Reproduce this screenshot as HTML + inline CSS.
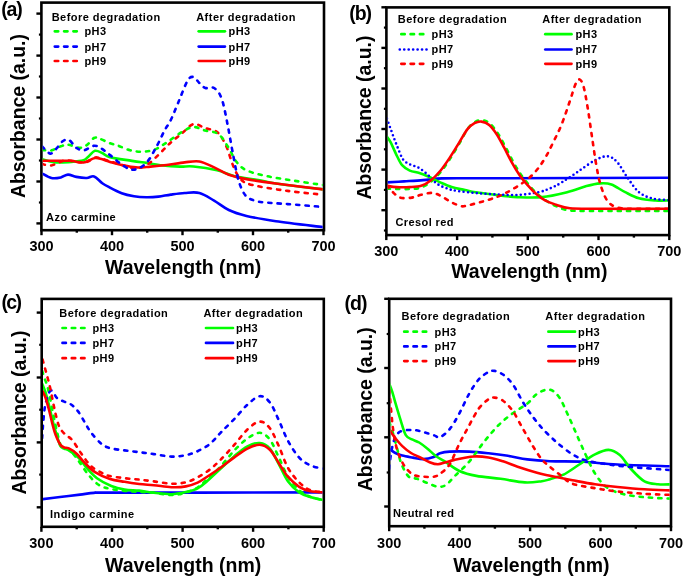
<!DOCTYPE html>
<html><head><meta charset="utf-8"><style>html,body{margin:0;padding:0;background:#fff;width:685px;height:578px;overflow:hidden}</style></head>
<body>
<svg width="685" height="578" viewBox="0 0 685 578" style="display:block;will-change:transform">
<rect width="685" height="578" fill="#fff"/>
<line x1="36.4" y1="13.6" x2="41.4" y2="13.6" stroke="#000" stroke-width="2.4"/>
<line x1="36.4" y1="55.6" x2="41.4" y2="55.6" stroke="#000" stroke-width="2.4"/>
<line x1="36.4" y1="97.5" x2="41.4" y2="97.5" stroke="#000" stroke-width="2.4"/>
<line x1="36.4" y1="139.5" x2="41.4" y2="139.5" stroke="#000" stroke-width="2.4"/>
<line x1="36.4" y1="181.5" x2="41.4" y2="181.5" stroke="#000" stroke-width="2.4"/>
<line x1="36.4" y1="223.4" x2="41.4" y2="223.4" stroke="#000" stroke-width="2.4"/>
<line x1="38.9" y1="34.6" x2="41.4" y2="34.6" stroke="#000" stroke-width="2.2"/>
<line x1="38.9" y1="76.5" x2="41.4" y2="76.5" stroke="#000" stroke-width="2.2"/>
<line x1="38.9" y1="118.5" x2="41.4" y2="118.5" stroke="#000" stroke-width="2.2"/>
<line x1="38.9" y1="160.5" x2="41.4" y2="160.5" stroke="#000" stroke-width="2.2"/>
<line x1="38.9" y1="202.5" x2="41.4" y2="202.5" stroke="#000" stroke-width="2.2"/>
<line x1="41.5" y1="230.2" x2="41.5" y2="235.2" stroke="#000" stroke-width="2.4"/>
<text x="41.5" y="251.1" font-size="14.5" font-weight="bold" text-anchor="middle" font-family='"Liberation Sans", sans-serif'>300</text>
<line x1="76.8" y1="230.2" x2="76.8" y2="232.7" stroke="#000" stroke-width="2.4"/>
<line x1="112.0" y1="230.2" x2="112.0" y2="235.2" stroke="#000" stroke-width="2.4"/>
<text x="112.0" y="251.1" font-size="14.5" font-weight="bold" text-anchor="middle" font-family='"Liberation Sans", sans-serif'>400</text>
<line x1="147.2" y1="230.2" x2="147.2" y2="232.7" stroke="#000" stroke-width="2.4"/>
<line x1="182.5" y1="230.2" x2="182.5" y2="235.2" stroke="#000" stroke-width="2.4"/>
<text x="182.5" y="251.1" font-size="14.5" font-weight="bold" text-anchor="middle" font-family='"Liberation Sans", sans-serif'>500</text>
<line x1="217.8" y1="230.2" x2="217.8" y2="232.7" stroke="#000" stroke-width="2.4"/>
<line x1="253.0" y1="230.2" x2="253.0" y2="235.2" stroke="#000" stroke-width="2.4"/>
<text x="253.0" y="251.1" font-size="14.5" font-weight="bold" text-anchor="middle" font-family='"Liberation Sans", sans-serif'>600</text>
<line x1="288.2" y1="230.2" x2="288.2" y2="232.7" stroke="#000" stroke-width="2.4"/>
<line x1="323.5" y1="230.2" x2="323.5" y2="235.2" stroke="#000" stroke-width="2.4"/>
<text x="323.5" y="251.1" font-size="14.5" font-weight="bold" text-anchor="middle" font-family='"Liberation Sans", sans-serif'>700</text>
<rect x="41.4" y="2.6" width="282.6" height="227.6" fill="none" stroke="#000" stroke-width="2.6"/>
<text x="105" y="273.9" font-size="19.5" font-weight="bold" font-family='"Liberation Sans", sans-serif' textLength="156.2" lengthAdjust="spacingAndGlyphs">Wavelength (nm)</text>
<text transform="translate(24.8,198.1) rotate(-90)" x="0" y="0" font-size="19.3" font-weight="bold" font-family='"Liberation Sans", sans-serif' textLength="164" lengthAdjust="spacingAndGlyphs">Absorbance (a.u.)</text>
<text x="1.2" y="15.8" font-size="19.5" font-weight="bold" font-family='"Liberation Sans", sans-serif' textLength="21.6" lengthAdjust="spacing">(a)</text>
<text x="46.1" y="221.3" font-size="11" font-weight="bold" font-family='"Liberation Sans", sans-serif' textLength="69.6" lengthAdjust="spacing">Azo carmine</text>
<text x="51.7" y="20.7" font-size="11" font-weight="bold" font-family='"Liberation Sans", sans-serif' textLength="108.5" lengthAdjust="spacing">Before degradation</text>
<text x="196.2" y="20.7" font-size="11" font-weight="bold" font-family='"Liberation Sans", sans-serif' textLength="99.3" lengthAdjust="spacing">After degradation</text>
<line x1="54.8" y1="31.3" x2="78.3" y2="31.3" stroke="#00ff00" stroke-width="2.7" stroke-dasharray="3.4 5.9" stroke-linecap="round"/>
<text x="84.4" y="35.2" font-size="11" font-weight="bold" font-family='"Liberation Sans", sans-serif' textLength="21.6" lengthAdjust="spacing">pH3</text>
<line x1="198.7" y1="31.3" x2="224.9" y2="31.3" stroke="#00ff00" stroke-width="2.7" stroke-linecap="round"/>
<text x="228.5" y="35.2" font-size="11" font-weight="bold" font-family='"Liberation Sans", sans-serif' textLength="21.6" lengthAdjust="spacing">pH3</text>
<line x1="54.8" y1="46.6" x2="78.3" y2="46.6" stroke="#0000ff" stroke-width="2.7" stroke-dasharray="3.4 5.9" stroke-linecap="round"/>
<text x="84.4" y="50.5" font-size="11" font-weight="bold" font-family='"Liberation Sans", sans-serif' textLength="21.6" lengthAdjust="spacing">pH7</text>
<line x1="198.7" y1="46.6" x2="224.9" y2="46.6" stroke="#0000ff" stroke-width="2.7" stroke-linecap="round"/>
<text x="228.5" y="50.5" font-size="11" font-weight="bold" font-family='"Liberation Sans", sans-serif' textLength="21.6" lengthAdjust="spacing">pH7</text>
<line x1="54.8" y1="61.0" x2="78.3" y2="61.0" stroke="#ff0000" stroke-width="2.7" stroke-dasharray="3.4 5.9" stroke-linecap="round"/>
<text x="84.4" y="64.9" font-size="11" font-weight="bold" font-family='"Liberation Sans", sans-serif' textLength="21.6" lengthAdjust="spacing">pH9</text>
<line x1="198.7" y1="61.0" x2="224.9" y2="61.0" stroke="#ff0000" stroke-width="2.7" stroke-linecap="round"/>
<text x="228.5" y="64.9" font-size="11" font-weight="bold" font-family='"Liberation Sans", sans-serif' textLength="21.6" lengthAdjust="spacing">pH9</text>
<line x1="381.4" y1="7.3" x2="386.4" y2="7.3" stroke="#000" stroke-width="2.4"/>
<line x1="381.4" y1="47.9" x2="386.4" y2="47.9" stroke="#000" stroke-width="2.4"/>
<line x1="381.4" y1="88.5" x2="386.4" y2="88.5" stroke="#000" stroke-width="2.4"/>
<line x1="381.4" y1="129.0" x2="386.4" y2="129.0" stroke="#000" stroke-width="2.4"/>
<line x1="381.4" y1="169.6" x2="386.4" y2="169.6" stroke="#000" stroke-width="2.4"/>
<line x1="381.4" y1="210.2" x2="386.4" y2="210.2" stroke="#000" stroke-width="2.4"/>
<line x1="383.9" y1="27.6" x2="386.4" y2="27.6" stroke="#000" stroke-width="2.2"/>
<line x1="383.9" y1="68.2" x2="386.4" y2="68.2" stroke="#000" stroke-width="2.2"/>
<line x1="383.9" y1="108.8" x2="386.4" y2="108.8" stroke="#000" stroke-width="2.2"/>
<line x1="383.9" y1="149.3" x2="386.4" y2="149.3" stroke="#000" stroke-width="2.2"/>
<line x1="383.9" y1="189.9" x2="386.4" y2="189.9" stroke="#000" stroke-width="2.2"/>
<line x1="383.9" y1="230.5" x2="386.4" y2="230.5" stroke="#000" stroke-width="2.2"/>
<line x1="386.3" y1="235.1" x2="386.3" y2="240.1" stroke="#000" stroke-width="2.4"/>
<text x="386.3" y="255.8" font-size="14.5" font-weight="bold" text-anchor="middle" font-family='"Liberation Sans", sans-serif'>300</text>
<line x1="421.7" y1="235.1" x2="421.7" y2="237.6" stroke="#000" stroke-width="2.4"/>
<line x1="457.1" y1="235.1" x2="457.1" y2="240.1" stroke="#000" stroke-width="2.4"/>
<text x="457.1" y="255.8" font-size="14.5" font-weight="bold" text-anchor="middle" font-family='"Liberation Sans", sans-serif'>400</text>
<line x1="492.4" y1="235.1" x2="492.4" y2="237.6" stroke="#000" stroke-width="2.4"/>
<line x1="527.8" y1="235.1" x2="527.8" y2="240.1" stroke="#000" stroke-width="2.4"/>
<text x="527.8" y="255.8" font-size="14.5" font-weight="bold" text-anchor="middle" font-family='"Liberation Sans", sans-serif'>500</text>
<line x1="563.2" y1="235.1" x2="563.2" y2="237.6" stroke="#000" stroke-width="2.4"/>
<line x1="598.5" y1="235.1" x2="598.5" y2="240.1" stroke="#000" stroke-width="2.4"/>
<text x="598.5" y="255.8" font-size="14.5" font-weight="bold" text-anchor="middle" font-family='"Liberation Sans", sans-serif'>600</text>
<line x1="633.9" y1="235.1" x2="633.9" y2="237.6" stroke="#000" stroke-width="2.4"/>
<line x1="669.3" y1="235.1" x2="669.3" y2="240.1" stroke="#000" stroke-width="2.4"/>
<text x="669.3" y="255.8" font-size="14.5" font-weight="bold" text-anchor="middle" font-family='"Liberation Sans", sans-serif'>700</text>
<rect x="386.4" y="7.4" width="282.9" height="227.7" fill="none" stroke="#000" stroke-width="2.6"/>
<text x="451.2" y="277.5" font-size="19.5" font-weight="bold" font-family='"Liberation Sans", sans-serif' textLength="156.2" lengthAdjust="spacingAndGlyphs">Wavelength (nm)</text>
<text transform="translate(370.5,199.6) rotate(-90)" x="0" y="0" font-size="19.3" font-weight="bold" font-family='"Liberation Sans", sans-serif' textLength="164" lengthAdjust="spacingAndGlyphs">Absorbance (a.u.)</text>
<text x="349.2" y="19.6" font-size="19.5" font-weight="bold" font-family='"Liberation Sans", sans-serif' textLength="22.8" lengthAdjust="spacing">(b)</text>
<text x="395.5" y="226" font-size="11" font-weight="bold" font-family='"Liberation Sans", sans-serif' textLength="58" lengthAdjust="spacing">Cresol red</text>
<text x="397.8" y="23.3" font-size="11" font-weight="bold" font-family='"Liberation Sans", sans-serif' textLength="108.9" lengthAdjust="spacing">Before degradation</text>
<text x="542.3" y="23.3" font-size="11" font-weight="bold" font-family='"Liberation Sans", sans-serif' textLength="99.3" lengthAdjust="spacing">After degradation</text>
<line x1="401.3" y1="34.2" x2="424.7" y2="34.2" stroke="#00ff00" stroke-width="2.7" stroke-dasharray="3.4 5.9" stroke-linecap="round"/>
<text x="431.5" y="38.1" font-size="11" font-weight="bold" font-family='"Liberation Sans", sans-serif' textLength="21.6" lengthAdjust="spacing">pH3</text>
<line x1="545.3" y1="34.2" x2="571.5" y2="34.2" stroke="#00ff00" stroke-width="2.7" stroke-linecap="round"/>
<text x="575.4" y="38.1" font-size="11" font-weight="bold" font-family='"Liberation Sans", sans-serif' textLength="21.6" lengthAdjust="spacing">pH3</text>
<line x1="399.8" y1="49.5" x2="426.59999999999997" y2="49.5" stroke="#0000ff" stroke-width="2.7" stroke-dasharray="0 4.45" stroke-linecap="round"/>
<text x="431.5" y="53.4" font-size="11" font-weight="bold" font-family='"Liberation Sans", sans-serif' textLength="21.6" lengthAdjust="spacing">pH7</text>
<line x1="545.3" y1="49.5" x2="571.5" y2="49.5" stroke="#0000ff" stroke-width="2.7" stroke-linecap="round"/>
<text x="575.4" y="53.4" font-size="11" font-weight="bold" font-family='"Liberation Sans", sans-serif' textLength="21.6" lengthAdjust="spacing">pH7</text>
<line x1="401.3" y1="63.8" x2="424.7" y2="63.8" stroke="#ff0000" stroke-width="2.7" stroke-dasharray="3.4 5.9" stroke-linecap="round"/>
<text x="431.5" y="67.7" font-size="11" font-weight="bold" font-family='"Liberation Sans", sans-serif' textLength="21.6" lengthAdjust="spacing">pH9</text>
<line x1="545.3" y1="63.8" x2="571.5" y2="63.8" stroke="#ff0000" stroke-width="2.7" stroke-linecap="round"/>
<text x="575.4" y="67.7" font-size="11" font-weight="bold" font-family='"Liberation Sans", sans-serif' textLength="21.6" lengthAdjust="spacing">pH9</text>
<line x1="36.7" y1="312.6" x2="41.7" y2="312.6" stroke="#000" stroke-width="2.4"/>
<line x1="36.7" y1="377.5" x2="41.7" y2="377.5" stroke="#000" stroke-width="2.4"/>
<line x1="36.7" y1="442.4" x2="41.7" y2="442.4" stroke="#000" stroke-width="2.4"/>
<line x1="36.7" y1="507.3" x2="41.7" y2="507.3" stroke="#000" stroke-width="2.4"/>
<line x1="39.2" y1="344.8" x2="41.7" y2="344.8" stroke="#000" stroke-width="2.2"/>
<line x1="39.2" y1="409.7" x2="41.7" y2="409.7" stroke="#000" stroke-width="2.2"/>
<line x1="39.2" y1="474.6" x2="41.7" y2="474.6" stroke="#000" stroke-width="2.2"/>
<line x1="41.4" y1="526.8" x2="41.4" y2="531.8" stroke="#000" stroke-width="2.4"/>
<text x="41.4" y="547.8" font-size="14.5" font-weight="bold" text-anchor="middle" font-family='"Liberation Sans", sans-serif'>300</text>
<line x1="76.7" y1="526.8" x2="76.7" y2="529.3" stroke="#000" stroke-width="2.4"/>
<line x1="112.0" y1="526.8" x2="112.0" y2="531.8" stroke="#000" stroke-width="2.4"/>
<text x="112.0" y="547.8" font-size="14.5" font-weight="bold" text-anchor="middle" font-family='"Liberation Sans", sans-serif'>400</text>
<line x1="147.3" y1="526.8" x2="147.3" y2="529.3" stroke="#000" stroke-width="2.4"/>
<line x1="182.6" y1="526.8" x2="182.6" y2="531.8" stroke="#000" stroke-width="2.4"/>
<text x="182.6" y="547.8" font-size="14.5" font-weight="bold" text-anchor="middle" font-family='"Liberation Sans", sans-serif'>500</text>
<line x1="217.8" y1="526.8" x2="217.8" y2="529.3" stroke="#000" stroke-width="2.4"/>
<line x1="253.1" y1="526.8" x2="253.1" y2="531.8" stroke="#000" stroke-width="2.4"/>
<text x="253.1" y="547.8" font-size="14.5" font-weight="bold" text-anchor="middle" font-family='"Liberation Sans", sans-serif'>600</text>
<line x1="288.4" y1="526.8" x2="288.4" y2="529.3" stroke="#000" stroke-width="2.4"/>
<line x1="323.7" y1="526.8" x2="323.7" y2="531.8" stroke="#000" stroke-width="2.4"/>
<text x="323.7" y="547.8" font-size="14.5" font-weight="bold" text-anchor="middle" font-family='"Liberation Sans", sans-serif'>700</text>
<rect x="41.7" y="298.9" width="282.1" height="227.9" fill="none" stroke="#000" stroke-width="2.6"/>
<text x="105" y="571.5" font-size="19.5" font-weight="bold" font-family='"Liberation Sans", sans-serif' textLength="156.2" lengthAdjust="spacingAndGlyphs">Wavelength (nm)</text>
<text transform="translate(25.8,494.6) rotate(-90)" x="0" y="0" font-size="19.3" font-weight="bold" font-family='"Liberation Sans", sans-serif' textLength="164" lengthAdjust="spacingAndGlyphs">Absorbance (a.u.)</text>
<text x="1.4" y="309.3" font-size="19.5" font-weight="bold" font-family='"Liberation Sans", sans-serif' textLength="20.5" lengthAdjust="spacing">(c)</text>
<text x="50.0" y="518.2" font-size="11" font-weight="bold" font-family='"Liberation Sans", sans-serif' textLength="84" lengthAdjust="spacing">Indigo carmine</text>
<text x="59.3" y="317.0" font-size="11" font-weight="bold" font-family='"Liberation Sans", sans-serif' textLength="108.5" lengthAdjust="spacing">Before degradation</text>
<text x="203.4" y="317.0" font-size="11" font-weight="bold" font-family='"Liberation Sans", sans-serif' textLength="99.3" lengthAdjust="spacing">After degradation</text>
<line x1="62.5" y1="328.0" x2="85.9" y2="328.0" stroke="#00ff00" stroke-width="2.7" stroke-dasharray="3.4 5.9" stroke-linecap="round"/>
<text x="92.4" y="331.9" font-size="11" font-weight="bold" font-family='"Liberation Sans", sans-serif' textLength="21.6" lengthAdjust="spacing">pH3</text>
<line x1="206.0" y1="328.0" x2="233.0" y2="328.0" stroke="#00ff00" stroke-width="2.7" stroke-linecap="round"/>
<text x="236.1" y="331.9" font-size="11" font-weight="bold" font-family='"Liberation Sans", sans-serif' textLength="21.6" lengthAdjust="spacing">pH3</text>
<line x1="62.5" y1="342.9" x2="85.9" y2="342.9" stroke="#0000ff" stroke-width="2.7" stroke-dasharray="3.4 5.9" stroke-linecap="round"/>
<text x="92.4" y="346.8" font-size="11" font-weight="bold" font-family='"Liberation Sans", sans-serif' textLength="21.6" lengthAdjust="spacing">pH7</text>
<line x1="206.0" y1="342.9" x2="233.0" y2="342.9" stroke="#0000ff" stroke-width="2.7" stroke-linecap="round"/>
<text x="236.1" y="346.8" font-size="11" font-weight="bold" font-family='"Liberation Sans", sans-serif' textLength="21.6" lengthAdjust="spacing">pH7</text>
<line x1="62.5" y1="358.2" x2="85.9" y2="358.2" stroke="#ff0000" stroke-width="2.7" stroke-dasharray="3.4 5.9" stroke-linecap="round"/>
<text x="92.4" y="362.1" font-size="11" font-weight="bold" font-family='"Liberation Sans", sans-serif' textLength="21.6" lengthAdjust="spacing">pH9</text>
<line x1="206.0" y1="358.2" x2="233.0" y2="358.2" stroke="#ff0000" stroke-width="2.7" stroke-linecap="round"/>
<text x="236.1" y="362.1" font-size="11" font-weight="bold" font-family='"Liberation Sans", sans-serif' textLength="21.6" lengthAdjust="spacing">pH9</text>
<line x1="384.2" y1="298.8" x2="389.2" y2="298.8" stroke="#000" stroke-width="2.4"/>
<line x1="384.2" y1="368.0" x2="389.2" y2="368.0" stroke="#000" stroke-width="2.4"/>
<line x1="384.2" y1="437.3" x2="389.2" y2="437.3" stroke="#000" stroke-width="2.4"/>
<line x1="384.2" y1="506.5" x2="389.2" y2="506.5" stroke="#000" stroke-width="2.4"/>
<line x1="386.7" y1="334.0" x2="389.2" y2="334.0" stroke="#000" stroke-width="2.2"/>
<line x1="386.7" y1="403.2" x2="389.2" y2="403.2" stroke="#000" stroke-width="2.2"/>
<line x1="386.7" y1="472.5" x2="389.2" y2="472.5" stroke="#000" stroke-width="2.2"/>
<line x1="389.2" y1="526.2" x2="389.2" y2="531.2" stroke="#000" stroke-width="2.4"/>
<text x="389.2" y="547.9" font-size="14.5" font-weight="bold" text-anchor="middle" font-family='"Liberation Sans", sans-serif'>300</text>
<line x1="424.4" y1="526.2" x2="424.4" y2="528.7" stroke="#000" stroke-width="2.4"/>
<line x1="459.6" y1="526.2" x2="459.6" y2="531.2" stroke="#000" stroke-width="2.4"/>
<text x="459.6" y="547.9" font-size="14.5" font-weight="bold" text-anchor="middle" font-family='"Liberation Sans", sans-serif'>400</text>
<line x1="494.9" y1="526.2" x2="494.9" y2="528.7" stroke="#000" stroke-width="2.4"/>
<line x1="530.1" y1="526.2" x2="530.1" y2="531.2" stroke="#000" stroke-width="2.4"/>
<text x="530.1" y="547.9" font-size="14.5" font-weight="bold" text-anchor="middle" font-family='"Liberation Sans", sans-serif'>500</text>
<line x1="565.3" y1="526.2" x2="565.3" y2="528.7" stroke="#000" stroke-width="2.4"/>
<line x1="600.5" y1="526.2" x2="600.5" y2="531.2" stroke="#000" stroke-width="2.4"/>
<text x="600.5" y="547.9" font-size="14.5" font-weight="bold" text-anchor="middle" font-family='"Liberation Sans", sans-serif'>600</text>
<line x1="635.8" y1="526.2" x2="635.8" y2="528.7" stroke="#000" stroke-width="2.4"/>
<line x1="671.0" y1="526.2" x2="671.0" y2="531.2" stroke="#000" stroke-width="2.4"/>
<text x="671.0" y="547.9" font-size="14.5" font-weight="bold" text-anchor="middle" font-family='"Liberation Sans", sans-serif'>700</text>
<rect x="389.2" y="298.8" width="281.8" height="227.4" fill="none" stroke="#000" stroke-width="2.6"/>
<text x="453.3" y="571.5" font-size="19.5" font-weight="bold" font-family='"Liberation Sans", sans-serif' textLength="156.2" lengthAdjust="spacingAndGlyphs">Wavelength (nm)</text>
<text transform="translate(371.5,491.3) rotate(-90)" x="0" y="0" font-size="19.3" font-weight="bold" font-family='"Liberation Sans", sans-serif' textLength="164" lengthAdjust="spacingAndGlyphs">Absorbance (a.u.)</text>
<text x="344.5" y="310.3" font-size="19.5" font-weight="bold" font-family='"Liberation Sans", sans-serif' textLength="23.1" lengthAdjust="spacing">(d)</text>
<text x="393" y="517" font-size="11" font-weight="bold" font-family='"Liberation Sans", sans-serif' textLength="61" lengthAdjust="spacing">Neutral red</text>
<text x="401.6" y="320.0" font-size="11" font-weight="bold" font-family='"Liberation Sans", sans-serif' textLength="108.1" lengthAdjust="spacing">Before degradation</text>
<text x="545.3" y="320.0" font-size="11" font-weight="bold" font-family='"Liberation Sans", sans-serif' textLength="99.7" lengthAdjust="spacing">After degradation</text>
<line x1="404.2" y1="331.7" x2="428.2" y2="331.7" stroke="#00ff00" stroke-width="2.7" stroke-dasharray="3.4 5.9" stroke-linecap="round"/>
<text x="434.6" y="335.6" font-size="11" font-weight="bold" font-family='"Liberation Sans", sans-serif' textLength="21.6" lengthAdjust="spacing">pH3</text>
<line x1="548.4" y1="331.7" x2="575.0" y2="331.7" stroke="#00ff00" stroke-width="2.7" stroke-linecap="round"/>
<text x="578.0" y="335.6" font-size="11" font-weight="bold" font-family='"Liberation Sans", sans-serif' textLength="21.6" lengthAdjust="spacing">pH3</text>
<line x1="404.2" y1="346.4" x2="428.2" y2="346.4" stroke="#0000ff" stroke-width="2.7" stroke-dasharray="3.4 5.9" stroke-linecap="round"/>
<text x="434.6" y="350.3" font-size="11" font-weight="bold" font-family='"Liberation Sans", sans-serif' textLength="21.6" lengthAdjust="spacing">pH7</text>
<line x1="548.4" y1="346.4" x2="575.0" y2="346.4" stroke="#0000ff" stroke-width="2.7" stroke-linecap="round"/>
<text x="578.0" y="350.3" font-size="11" font-weight="bold" font-family='"Liberation Sans", sans-serif' textLength="21.6" lengthAdjust="spacing">pH7</text>
<line x1="404.2" y1="361.1" x2="428.2" y2="361.1" stroke="#ff0000" stroke-width="2.7" stroke-dasharray="3.4 5.9" stroke-linecap="round"/>
<text x="434.6" y="365.0" font-size="11" font-weight="bold" font-family='"Liberation Sans", sans-serif' textLength="21.6" lengthAdjust="spacing">pH9</text>
<line x1="548.4" y1="361.1" x2="575.0" y2="361.1" stroke="#ff0000" stroke-width="2.7" stroke-linecap="round"/>
<text x="578.0" y="365.0" font-size="11" font-weight="bold" font-family='"Liberation Sans", sans-serif' textLength="21.6" lengthAdjust="spacing">pH9</text>
<defs><clipPath id="clipa"><rect x="42.699999999999996" y="3.9000000000000004" width="280.0" height="225.0"/></clipPath></defs>
<g clip-path="url(#clipa)" fill="none" stroke-linejoin="round">
<path d="M42.0,173.3 C43.6,174.1 48.3,177.3 51.4,178.0 C54.5,178.7 58.0,178.0 60.8,177.4 C63.6,176.8 65.4,174.7 68.0,174.6 C70.6,174.5 73.2,176.3 76.3,176.9 C79.4,177.5 83.8,178.1 86.7,178.0 C89.7,177.9 91.4,175.5 94.0,176.4 C96.6,177.3 99.7,181.4 102.3,183.2 C104.9,185.0 106.3,185.7 109.5,187.4 C112.7,189.1 117.6,191.7 121.7,193.2 C125.8,194.7 129.9,195.5 134.0,196.2 C138.1,196.9 142.2,197.2 146.3,197.3 C150.4,197.4 154.4,197.1 158.5,196.6 C162.6,196.1 166.4,195.2 170.8,194.6 C175.2,194.0 179.9,193.3 184.7,193.0 C189.5,192.7 194.5,191.7 199.4,193.0 C204.3,194.3 209.2,197.8 214.1,200.6 C219.0,203.4 223.4,207.4 228.8,210.0 C234.2,212.6 238.7,214.0 246.5,215.9 C254.3,217.8 263.1,219.3 275.9,221.2 C288.6,223.1 315.1,226.1 323.0,227.1" stroke="#0000ff" stroke-width="2.6" stroke-linecap="round"/>
<path d="M42.0,159.3 C44.3,159.8 50.7,162.0 55.6,162.4 C60.5,162.8 66.5,162.2 71.2,161.9 C75.9,161.6 80.7,161.2 83.6,160.3 C86.5,159.4 86.9,157.8 88.8,156.2 C90.7,154.6 92.8,151.3 95.0,150.8 C97.2,150.3 99.8,151.9 102.3,153.0 C104.8,154.1 105.0,155.9 110.0,157.2 C115.0,158.5 126.0,159.9 132.0,160.9 C138.1,161.9 141.2,162.2 146.3,162.9 C151.4,163.7 157.0,164.8 162.6,165.4 C168.2,166.0 174.8,166.4 180.0,166.6 C185.2,166.8 187.3,165.9 193.5,166.5 C199.7,167.1 210.2,168.7 217.1,170.3 C224.0,171.9 227.8,174.6 234.7,176.2 C241.5,177.8 251.3,178.8 258.2,180.0 C265.1,181.2 265.1,181.9 275.9,183.5 C286.7,185.1 315.1,188.4 323.0,189.4" stroke="#00ff00" stroke-width="2.6" stroke-linecap="round"/>
<path d="M42.0,163.9 C43.6,164.2 47.6,166.1 51.4,165.5 C55.1,164.9 60.3,161.1 64.5,160.5 C68.7,159.9 73.0,161.7 76.8,161.9 C80.5,162.1 83.8,162.7 87.0,161.9 C90.2,161.2 92.1,157.4 96.2,157.4 C100.3,157.4 106.2,160.4 111.5,161.9 C116.8,163.4 123.8,165.5 127.9,166.6 C132.0,167.7 132.6,169.0 136.0,168.6 C139.4,168.2 144.2,166.6 148.3,163.9 C152.4,161.2 156.8,156.3 160.6,152.7 C164.3,149.1 167.3,145.7 170.8,142.5 C174.3,139.3 178.0,136.6 181.8,133.5 C185.6,130.4 189.6,125.0 193.5,124.1 C197.4,123.2 201.4,126.9 205.3,128.2 C209.2,129.5 213.7,129.2 217.1,132.0 C220.5,134.8 223.2,139.7 225.9,145.3 C228.6,151.0 230.8,160.3 233.2,165.9 C235.6,171.5 237.4,175.9 240.6,179.1 C243.8,182.3 244.6,183.0 252.4,185.0 C260.2,187.0 275.8,189.3 287.6,190.9 C299.4,192.5 317.1,194.1 323.0,194.7" stroke="#ff0000" stroke-width="2.6" stroke-dasharray="3.2 6.1" stroke-linecap="round"/>
<path d="M42.0,160.8 C44.3,160.8 51.2,160.8 56.0,160.8 C60.8,160.8 67.1,160.5 71.0,160.8 C74.9,161.1 77.0,162.2 79.5,162.4 C82.0,162.6 83.1,162.6 85.7,161.9 C88.3,161.2 92.2,158.4 95.0,158.0 C97.8,157.6 99.8,158.7 102.3,159.3 C104.8,160.0 106.8,161.0 110.0,161.9 C113.2,162.8 117.4,164.1 121.7,165.0 C126.0,165.9 131.2,167.1 136.0,167.4 C140.8,167.7 145.3,167.0 150.4,166.6 C155.5,166.2 161.0,165.7 166.7,165.0 C172.4,164.3 179.2,163.0 184.7,162.4 C190.1,161.8 194.5,160.7 199.4,161.5 C204.3,162.3 209.2,165.2 214.1,167.4 C219.0,169.6 223.4,172.8 228.8,174.7 C234.2,176.6 238.7,177.6 246.5,179.1 C254.3,180.6 263.1,181.8 275.9,183.5 C288.6,185.2 315.1,188.4 323.0,189.4" stroke="#ff0000" stroke-width="2.6" stroke-linecap="round"/>
<path d="M42.0,149.9 C43.6,150.0 48.3,151.0 51.4,150.4 C54.5,149.8 58.0,147.2 60.8,146.3 C63.6,145.4 64.9,144.4 68.0,144.7 C71.1,144.9 76.4,147.7 79.5,147.8 C82.6,147.9 84.3,146.8 86.7,145.2 C89.1,143.6 91.9,139.1 94.0,138.0 C96.1,136.9 96.5,137.6 99.2,138.5 C101.9,139.4 106.9,142.0 110.0,143.2 C113.1,144.4 114.4,144.3 117.7,145.5 C121.0,146.7 125.9,149.2 130.0,150.2 C134.1,151.2 138.1,151.8 142.2,151.7 C146.3,151.6 150.4,151.1 154.5,149.6 C158.6,148.1 162.1,145.4 166.7,142.5 C171.2,139.6 177.3,134.7 181.8,132.1 C186.3,129.5 189.6,127.3 193.5,127.1 C197.4,126.8 201.1,129.4 205.3,130.6 C209.5,131.8 214.6,131.2 218.5,134.1 C222.4,137.0 225.9,143.6 228.8,148.2 C231.8,152.8 233.2,157.8 236.2,161.5 C239.1,165.2 241.3,167.9 246.5,170.3 C251.7,172.8 259.3,174.5 267.1,176.2 C274.9,177.9 284.2,179.1 293.5,180.6 C302.8,182.1 318.1,184.3 323.0,185.0" stroke="#00ff00" stroke-width="2.6" stroke-dasharray="3.2 6.1" stroke-linecap="round"/>
<path d="M42.0,146.3 C43.4,147.5 48.0,153.2 50.4,153.6 C52.8,153.9 54.6,150.4 56.6,148.4 C58.6,146.4 60.4,143.1 62.3,141.6 C64.2,140.1 66.2,139.1 68.0,139.5 C69.8,139.9 71.8,142.8 73.2,144.2 C74.6,145.6 74.6,146.8 76.3,147.8 C78.0,148.8 80.6,150.7 83.6,150.4 C86.5,150.1 91.0,146.1 94.0,145.8 C97.0,145.5 98.6,146.9 101.3,148.4 C104.0,149.9 106.2,152.2 110.0,155.1 C113.8,158.0 119.8,163.6 123.8,166.0 C127.8,168.4 130.2,170.2 134.0,169.7 C137.8,169.2 142.6,166.8 146.3,162.9 C150.1,159.1 153.4,152.1 156.5,146.6 C159.6,141.1 162.3,134.6 164.7,130.2 C167.1,125.8 168.5,124.8 170.8,120.0 C173.2,115.2 176.0,107.8 178.8,101.2 C181.6,94.6 185.2,84.6 187.6,80.6 C190.0,76.6 191.5,76.6 193.5,77.0 C195.5,77.4 197.4,81.2 199.4,83.0 C201.4,84.8 202.9,87.2 205.3,88.0 C207.8,88.8 211.4,86.3 214.1,88.0 C216.8,89.7 219.2,92.1 221.5,98.2 C223.8,104.3 225.8,115.7 227.6,124.7 C229.4,133.7 230.8,142.7 232.6,152.0 C234.4,161.3 236.4,173.2 238.6,180.5 C240.8,187.8 242.8,192.2 245.5,195.5 C248.2,198.8 251.2,199.4 254.5,200.6 C257.8,201.8 259.5,201.9 265.0,202.5 C270.5,203.1 277.9,203.3 287.6,204.1 C297.3,204.8 317.1,206.5 323.0,207.0" stroke="#0000ff" stroke-width="2.6" stroke-dasharray="3.2 6.1" stroke-linecap="round"/>
</g>
<defs><clipPath id="clipb"><rect x="387.7" y="8.700000000000001" width="280.3" height="225.1"/></clipPath></defs>
<g clip-path="url(#clipb)" fill="none" stroke-linejoin="round">
<path d="M386.9,182.4 C389.8,182.2 398.0,181.8 404.0,181.4 C410.0,181.0 416.8,180.6 423.1,180.1 C429.5,179.6 435.1,178.7 442.1,178.4 C449.1,178.1 455.4,178.2 465.0,178.2 C474.6,178.2 465.9,178.3 500.0,178.2 C534.1,178.1 641.2,177.9 669.4,177.8" stroke="#0000ff" stroke-width="2.6" stroke-linecap="round"/>
<path d="M386.9,136.7 C387.5,137.6 389.1,139.4 390.7,142.4 C392.3,145.4 394.5,151.0 396.4,154.8 C398.3,158.6 399.9,162.6 402.1,165.2 C404.3,167.8 406.9,169.3 409.8,170.6 C412.7,171.9 416.1,171.9 419.3,172.9 C422.5,173.9 425.3,175.1 428.8,176.7 C432.3,178.3 436.4,180.7 440.2,182.4 C444.0,184.1 447.6,185.8 451.7,187.1 C455.8,188.4 461.0,189.1 465.0,190.0 C469.0,190.9 470.6,191.5 475.8,192.3 C481.1,193.1 489.6,194.2 496.5,195.0 C503.4,195.8 509.7,196.8 517.3,197.1 C524.9,197.4 533.9,197.9 542.2,197.1 C550.5,196.3 559.7,194.0 567.1,192.2 C574.5,190.4 581.0,187.6 586.5,186.1 C592.0,184.6 596.1,183.7 600.3,183.4 C604.4,183.1 607.2,183.0 611.4,184.5 C615.5,186.0 620.6,189.9 625.2,192.2 C629.8,194.5 633.9,196.9 639.0,198.3 C644.1,199.7 650.5,200.1 655.6,200.5 C660.7,200.9 667.1,200.5 669.4,200.5" stroke="#00ff00" stroke-width="2.6" stroke-linecap="round"/>
<path d="M386.9,118.6 C387.5,120.3 389.4,125.5 390.7,129.0 C392.0,132.5 393.2,136.2 394.5,139.5 C395.8,142.8 396.9,145.7 398.3,149.0 C399.7,152.3 401.2,156.9 403.1,159.5 C405.0,162.1 407.1,162.9 409.8,164.3 C412.5,165.7 416.1,166.2 419.3,168.1 C422.5,170.0 426.0,173.2 428.8,175.7 C431.6,178.2 433.5,181.2 436.4,183.3 C439.3,185.4 442.5,186.8 446.0,188.1 C449.5,189.4 452.4,190.2 457.4,191.0 C462.4,191.8 469.3,192.4 475.8,193.0 C482.3,193.6 489.6,194.1 496.5,194.4 C503.4,194.7 510.4,195.3 517.3,195.0 C524.2,194.7 532.5,193.4 538.0,192.3 C543.5,191.2 546.6,189.8 550.5,188.2 C554.4,186.6 557.0,185.3 561.6,182.5 C566.2,179.7 572.7,175.2 578.2,171.5 C583.7,167.8 590.0,162.9 594.8,160.4 C599.6,157.9 603.5,156.1 607.2,156.3 C610.9,156.5 613.4,158.1 616.9,161.8 C620.4,165.5 624.3,173.3 628.0,178.4 C631.7,183.5 634.9,188.8 639.0,192.2 C643.1,195.6 647.8,197.3 652.9,198.6 C658.0,199.9 666.6,199.8 669.4,200.0" stroke="#0000ff" stroke-width="2.6" stroke-dasharray="0 4.4" stroke-linecap="round"/>
<path d="M386.9,188.6 C388.5,188.7 392.6,188.9 396.4,189.0 C400.2,189.1 405.7,189.2 409.8,189.0 C413.9,188.8 417.6,188.8 421.2,187.5 C424.8,186.2 427.9,184.1 431.2,181.5 C434.4,178.9 437.5,175.9 440.7,172.0 C443.9,168.1 447.1,163.2 450.3,158.3 C453.5,153.4 456.9,147.5 459.8,142.6 C462.7,137.7 465.2,132.2 467.7,128.8 C470.2,125.4 472.3,123.7 474.7,122.2 C477.1,120.8 479.3,119.9 481.8,120.1 C484.3,120.3 487.1,121.3 489.7,123.4 C492.3,125.5 494.8,128.9 497.4,132.7 C500.0,136.5 502.5,141.5 505.1,146.2 C507.7,150.9 510.3,156.4 512.8,161.0 C515.3,165.6 517.7,169.8 520.3,173.7 C522.9,177.6 525.9,181.2 528.6,184.5 C531.4,187.8 533.8,190.7 536.8,193.4 C539.8,196.2 543.4,198.8 546.8,201.0 C550.2,203.2 553.1,204.9 557.0,206.5 C560.9,208.1 562.8,209.8 570.0,210.5 C577.2,211.2 583.4,210.9 600.0,211.0 C616.6,211.1 657.8,211.0 669.4,211.0" stroke="#00ff00" stroke-width="2.6" stroke-dasharray="3.2 6.1" stroke-linecap="round"/>
<path d="M386.9,185.8 C388.5,186.0 392.6,186.9 396.4,187.1 C400.2,187.3 405.7,187.3 409.8,187.1 C413.9,186.9 417.7,186.9 421.2,185.8 C424.7,184.7 427.5,183.0 430.7,180.5 C433.9,178.0 437.0,174.8 440.2,171.0 C443.4,167.2 446.6,162.4 449.8,157.6 C453.0,152.8 456.4,147.2 459.3,142.4 C462.2,137.7 465.0,132.3 467.5,129.1 C470.0,125.9 472.2,124.5 474.5,123.2 C476.8,122.0 479.1,121.3 481.5,121.6 C483.9,121.9 486.7,122.8 489.2,124.9 C491.7,127.0 494.2,130.4 496.7,134.2 C499.2,138.0 501.7,143.0 504.2,147.7 C506.7,152.4 509.3,157.8 511.8,162.3 C514.3,166.8 516.7,170.9 519.3,174.7 C521.9,178.5 524.9,182.0 527.6,185.1 C530.3,188.2 532.7,190.8 535.7,193.4 C538.7,196.0 542.1,198.7 545.5,200.6 C548.9,202.5 552.0,203.4 556.1,204.7 C560.2,206.0 562.5,207.6 569.9,208.3 C577.3,209.0 583.7,208.7 600.3,208.8 C616.9,208.9 657.9,208.8 669.4,208.8" stroke="#ff0000" stroke-width="2.6" stroke-linecap="round"/>
<path d="M386.9,185.2 C387.8,186.3 390.4,189.8 392.6,191.9 C394.8,194.0 397.0,196.7 400.2,197.6 C403.4,198.5 408.2,198.1 411.7,197.6 C415.2,197.1 417.7,195.6 421.2,194.8 C424.7,194.0 429.1,192.6 432.6,192.9 C436.1,193.2 438.9,195.1 442.1,196.7 C445.3,198.3 448.5,200.8 451.7,202.4 C454.9,204.0 458.6,205.7 461.2,206.2 C463.8,206.7 464.0,206.2 467.5,205.4 C471.0,204.7 477.2,203.1 482.0,201.7 C486.8,200.3 492.0,198.8 496.5,197.1 C501.0,195.4 505.2,193.3 509.0,191.3 C512.8,189.3 516.0,187.2 519.3,185.1 C522.6,182.9 525.6,181.2 528.7,178.4 C531.8,175.6 535.1,172.2 538.0,168.5 C540.9,164.8 543.7,160.5 546.3,156.0 C548.9,151.5 551.0,146.8 553.6,141.5 C556.2,136.2 558.9,131.2 561.6,124.5 C564.3,117.8 567.6,107.7 569.9,101.0 C572.2,94.3 573.8,88.0 575.4,84.4 C577.0,80.8 578.2,79.0 579.6,79.4 C581.0,79.9 582.3,82.1 583.7,87.1 C585.1,92.1 586.5,100.9 587.9,109.2 C589.3,117.5 590.6,127.7 592.0,136.9 C593.4,146.1 594.8,156.8 596.2,164.6 C597.6,172.4 598.5,177.9 600.3,183.9 C602.1,189.9 604.4,196.6 607.2,200.5 C610.0,204.4 612.5,206.0 616.9,207.4 C621.3,208.8 624.8,208.6 633.5,208.8 C642.2,209.0 663.4,208.8 669.4,208.8" stroke="#ff0000" stroke-width="2.6" stroke-dasharray="3.2 6.1" stroke-linecap="round"/>
</g>
<defs><clipPath id="clipc"><rect x="43.0" y="300.2" width="279.5" height="225.3"/></clipPath></defs>
<g clip-path="url(#clipc)" fill="none" stroke-linejoin="round">
<path d="M42.0,499.2 C45.0,498.8 53.7,497.8 60.0,497.0 C66.3,496.2 74.3,495.3 80.0,494.6 C85.7,493.9 89.8,493.2 94.0,492.9 C98.2,492.6 87.3,492.7 105.0,492.6 C122.7,492.6 163.5,492.6 200.0,492.6 C236.5,492.6 303.2,492.4 323.9,492.4" stroke="#0000ff" stroke-width="2.6" stroke-linecap="round"/>
<path d="M42.1,383.7 C42.6,385.0 44.1,388.1 45.2,391.5 C46.3,394.9 47.6,399.5 48.7,404.0 C49.9,408.5 51.0,413.9 52.1,418.5 C53.2,423.1 54.2,427.0 55.6,431.5 C57.0,436.0 58.8,442.8 60.2,445.6 C61.6,448.5 62.8,447.8 64.2,448.6 C65.6,449.4 66.0,448.7 68.4,450.2 C70.8,451.7 75.5,454.8 78.6,457.8 C81.7,460.8 83.7,464.6 86.8,468.0 C89.9,471.4 92.9,475.2 97.0,478.2 C101.1,481.2 106.7,484.1 111.3,486.0 C115.9,487.9 119.9,488.8 124.6,489.6 C129.2,490.4 134.3,490.1 139.2,490.6 C144.1,491.1 148.5,492.2 153.8,492.8 C159.2,493.4 166.0,494.3 171.3,494.2 C176.7,494.1 181.5,493.0 185.9,492.0 C190.3,491.0 194.1,490.2 197.6,488.4 C201.1,486.6 203.2,484.5 207.0,481.2 C210.8,477.9 216.0,472.9 220.5,468.8 C225.0,464.7 229.5,460.1 234.0,456.4 C238.5,452.6 243.1,448.5 247.4,446.3 C251.7,444.1 256.1,442.6 259.8,443.0 C263.6,443.4 266.7,445.1 269.9,448.6 C273.1,452.2 275.9,458.9 278.9,464.3 C281.9,469.7 284.5,476.5 287.9,481.2 C291.3,485.9 295.4,489.8 299.2,492.4 C302.9,495.0 306.3,495.6 310.4,496.9 C314.5,498.2 321.6,499.7 323.9,500.3" stroke="#00ff00" stroke-width="2.6" stroke-linecap="round"/>
<path d="M42.1,370.8 C42.5,371.9 43.5,375.4 44.3,377.7 C45.1,380.0 46.0,381.7 46.9,384.6 C47.8,387.5 48.6,391.0 49.5,395.0 C50.4,399.0 51.2,404.5 52.1,408.8 C53.0,413.1 53.8,416.9 54.7,420.9 C55.6,424.9 56.1,428.7 57.3,433.0 C58.4,437.3 59.5,444.0 61.6,446.9 C63.7,449.8 67.2,448.2 70.0,450.5 C72.8,452.8 75.5,456.8 78.6,460.9 C81.7,465.0 85.4,471.2 88.8,475.2 C92.2,479.2 95.2,482.7 99.0,485.0 C102.8,487.3 105.8,488.0 111.3,489.1 C116.8,490.2 124.9,490.9 131.7,491.5 C138.5,492.1 145.6,492.0 152.2,492.6 C158.8,493.2 165.7,495.0 171.3,495.0 C176.9,495.0 181.5,493.8 185.9,492.5 C190.3,491.2 194.1,489.7 197.6,487.5 C201.1,485.3 203.2,483.0 207.0,479.5 C210.8,476.0 216.0,471.4 220.5,466.6 C225.0,461.8 229.5,455.5 234.0,450.8 C238.5,446.1 243.1,441.5 247.4,438.5 C251.7,435.5 256.1,432.6 259.8,432.8 C263.6,433.0 266.7,435.5 269.9,439.6 C273.1,443.7 275.9,451.4 278.9,457.6 C281.9,463.8 284.5,471.3 287.9,476.7 C291.3,482.1 295.4,486.8 299.2,490.2 C302.9,493.6 306.3,495.2 310.4,496.9 C314.5,498.6 321.6,499.7 323.9,500.3" stroke="#00ff00" stroke-width="2.6" stroke-dasharray="3.2 6.1" stroke-linecap="round"/>
<path d="M42.1,438.2 C42.3,435.0 43.0,424.7 43.5,419.2 C44.0,413.7 44.3,409.7 45.2,405.4 C46.1,401.1 47.6,395.8 48.7,393.3 C49.9,390.9 50.7,389.9 52.1,390.7 C53.5,391.5 55.3,396.6 57.3,398.4 C59.3,400.2 61.9,400.6 64.2,401.6 C66.5,402.6 68.8,402.9 71.1,404.5 C73.4,406.1 75.8,408.4 78.1,411.4 C80.4,414.4 82.9,419.2 85.0,422.7 C87.1,426.2 88.2,428.8 90.9,432.3 C93.6,435.8 97.9,440.9 101.1,443.5 C104.3,446.1 106.1,447.1 110.0,448.2 C113.9,449.3 119.7,449.7 124.6,450.4 C129.5,451.1 134.3,451.6 139.2,452.2 C144.1,452.8 148.5,453.4 153.8,454.1 C159.2,454.8 166.0,456.4 171.3,456.6 C176.7,456.8 181.5,456.0 185.9,455.1 C190.3,454.2 193.6,453.1 197.6,451.2 C201.6,449.3 206.2,447.0 210.0,443.9 C213.8,440.8 216.5,436.9 220.5,432.8 C224.5,428.7 229.5,424.0 234.0,419.3 C238.5,414.6 243.1,408.6 247.4,404.7 C251.7,400.8 256.1,396.6 259.8,396.2 C263.6,395.8 266.7,398.4 269.9,402.5 C273.1,406.6 275.9,414.1 278.9,420.5 C281.9,426.9 284.5,434.5 287.9,440.7 C291.3,446.9 295.4,453.5 299.2,457.6 C302.9,461.7 306.3,463.5 310.4,465.4 C314.5,467.3 321.6,468.2 323.9,468.8" stroke="#0000ff" stroke-width="2.6" stroke-dasharray="3.2 6.1" stroke-linecap="round"/>
<path d="M42.6,359.5 C43.0,361.1 44.3,365.8 45.2,369.0 C46.1,372.2 46.9,375.2 47.8,378.5 C48.7,381.8 49.5,385.0 50.4,388.9 C51.3,392.8 52.1,397.7 53.0,401.9 C53.9,406.1 54.6,410.0 55.6,414.0 C56.6,418.0 57.6,422.9 59.0,426.1 C60.4,429.4 62.0,431.1 64.2,433.5 C66.5,435.9 69.8,437.2 72.5,440.4 C75.2,443.6 77.6,448.4 80.7,452.7 C83.8,457.0 87.2,462.5 90.9,466.0 C94.6,469.5 99.9,471.8 103.1,473.5 C106.3,475.2 106.4,475.2 110.0,476.0 C113.6,476.8 119.7,477.6 124.6,478.2 C129.5,478.8 134.3,479.1 139.2,479.6 C144.1,480.1 148.5,480.7 153.8,481.4 C159.2,482.1 166.0,483.5 171.3,483.7 C176.7,483.9 181.5,483.4 185.9,482.3 C190.3,481.2 193.6,479.5 197.6,477.4 C201.6,475.2 206.2,472.3 210.0,469.4 C213.8,466.5 216.5,463.8 220.5,459.8 C224.5,455.8 229.5,450.2 234.0,445.2 C238.5,440.1 243.1,433.4 247.4,429.5 C251.7,425.6 256.1,421.8 259.8,421.6 C263.6,421.4 266.7,424.2 269.9,428.3 C273.1,432.4 275.9,439.7 278.9,446.3 C281.9,452.9 284.5,461.7 287.9,467.7 C291.3,473.7 295.4,478.6 299.2,482.3 C302.9,486.1 306.3,488.5 310.4,490.2 C314.5,491.9 321.6,492.0 323.9,492.4" stroke="#ff0000" stroke-width="2.6" stroke-dasharray="3.2 6.1" stroke-linecap="round"/>
<path d="M42.1,390.7 C42.6,391.7 44.1,393.7 45.2,396.7 C46.3,399.7 47.6,404.5 48.7,408.8 C49.9,413.1 51.0,418.4 52.1,422.7 C53.2,427.0 54.2,431.2 55.6,434.8 C57.0,438.4 58.8,442.4 60.2,444.5 C61.6,446.6 62.8,446.9 64.2,447.5 C65.6,448.1 66.3,447.2 68.4,448.2 C70.5,449.2 73.9,451.2 76.6,453.7 C79.3,456.1 81.6,459.8 84.7,462.9 C87.8,466.0 90.8,469.4 95.0,472.1 C99.2,474.8 105.1,477.3 110.0,478.9 C114.9,480.5 119.7,480.9 124.6,481.8 C129.5,482.7 134.3,483.4 139.2,484.0 C144.1,484.6 148.5,484.7 153.8,485.2 C159.2,485.7 166.0,487.0 171.3,487.2 C176.7,487.4 181.5,487.2 185.9,486.4 C190.3,485.6 194.0,484.2 197.6,482.6 C201.2,481.0 203.7,479.0 207.5,476.5 C211.3,474.0 216.1,470.8 220.5,467.7 C224.9,464.6 229.5,460.8 234.0,457.6 C238.5,454.4 243.1,450.8 247.4,448.6 C251.7,446.5 256.1,444.5 259.8,444.7 C263.6,444.9 266.7,446.6 269.9,449.7 C273.1,452.8 275.9,458.7 278.9,463.2 C281.9,467.7 284.5,472.8 287.9,476.7 C291.3,480.6 295.4,484.4 299.2,486.8 C302.9,489.2 306.3,490.4 310.4,491.3 C314.5,492.2 321.6,492.2 323.9,492.4" stroke="#ff0000" stroke-width="2.6" stroke-linecap="round"/>
</g>
<defs><clipPath id="clipd"><rect x="390.5" y="300.1" width="279.2" height="224.8"/></clipPath></defs>
<g clip-path="url(#clipd)" fill="none" stroke-linejoin="round">
<path d="M389.3,448.7 C390.3,449.4 393.2,451.9 395.4,453.0 C397.6,454.1 399.4,454.8 402.3,455.6 C405.2,456.4 409.5,457.0 413.0,457.6 C416.5,458.2 419.9,459.2 423.4,459.1 C426.8,459.0 430.9,458.0 433.7,457.0 C436.5,456.0 437.3,454.2 440.0,453.3 C442.7,452.4 444.8,451.9 449.7,451.6 C454.6,451.3 462.6,451.3 469.1,451.6 C475.6,451.9 482.0,452.6 488.5,453.3 C495.0,454.0 501.4,454.8 507.9,455.8 C514.4,456.8 520.3,458.5 527.3,459.4 C534.3,460.3 540.6,460.8 550.0,461.2 C559.4,461.6 572.5,461.2 583.8,461.8 C595.0,462.4 602.9,463.8 617.5,464.5 C632.1,465.2 662.5,466.0 671.5,466.3" stroke="#0000ff" stroke-width="2.6" stroke-linecap="round"/>
<path d="M389.3,383.8 C389.8,385.1 391.2,388.4 392.2,391.6 C393.2,394.8 394.0,398.1 395.4,402.9 C396.8,407.7 398.9,414.8 400.6,420.2 C402.3,425.6 403.9,432.0 405.8,435.2 C407.7,438.4 409.8,438.2 412.0,439.4 C414.2,440.6 416.6,440.9 419.2,442.5 C421.8,444.1 424.7,446.4 427.5,448.7 C430.3,450.9 432.7,453.8 435.8,456.0 C438.9,458.2 442.1,459.7 446.0,462.2 C449.9,464.7 454.3,468.7 459.4,471.0 C464.5,473.3 469.5,474.6 476.4,475.9 C483.3,477.2 492.5,477.7 500.6,478.8 C508.7,479.9 517.9,482.0 524.8,482.4 C531.7,482.8 537.6,481.7 541.8,481.2 C546.0,480.7 546.4,480.3 550.0,479.2 C553.6,478.1 558.6,477.1 563.5,474.7 C568.4,472.2 574.0,467.9 579.3,464.5 C584.5,461.1 590.1,456.8 595.0,454.4 C599.9,452.0 604.4,449.8 608.5,449.9 C612.6,450.0 616.0,451.9 619.8,455.1 C623.5,458.3 626.9,464.6 631.0,469.0 C635.1,473.4 640.0,478.8 644.5,481.4 C649.0,483.9 653.5,483.8 658.0,484.3 C662.5,484.8 669.2,484.3 671.5,484.3" stroke="#00ff00" stroke-width="2.6" stroke-linecap="round"/>
<path d="M389.3,421.9 C390.0,424.2 392.4,431.1 393.7,435.7 C395.0,440.3 396.1,444.9 397.4,449.7 C398.7,454.5 399.7,459.8 401.6,464.3 C403.5,468.8 406.2,474.3 408.8,476.7 C411.4,479.1 414.0,477.8 417.1,478.8 C420.2,479.9 424.0,481.7 427.5,483.0 C431.0,484.3 434.8,486.4 437.9,486.7 C441.0,487.0 443.2,486.7 446.0,485.0 C448.8,483.3 450.6,480.3 454.5,476.4 C458.4,472.5 464.2,467.5 469.1,461.8 C474.0,456.1 478.8,448.4 483.6,442.4 C488.5,436.3 493.3,430.4 498.2,425.5 C503.1,420.6 507.9,416.9 512.7,413.3 C517.6,409.7 523.2,406.8 527.3,403.6 C531.3,400.4 533.4,396.2 537.0,393.9 C540.6,391.6 545.4,389.1 549.1,389.6 C552.8,390.1 555.9,392.8 559.0,397.0 C562.1,401.2 565.0,408.6 568.0,415.0 C571.0,421.4 574.0,428.6 577.0,435.3 C580.0,442.1 583.0,449.1 586.0,455.5 C589.0,461.9 591.6,468.2 595.0,473.5 C598.4,478.8 601.8,483.6 606.3,487.0 C610.8,490.4 615.6,492.1 622.0,493.8 C628.4,495.5 636.2,496.4 644.5,497.2 C652.8,498.0 667.0,498.4 671.5,498.7" stroke="#00ff00" stroke-width="2.6" stroke-dasharray="3.2 6.1" stroke-linecap="round"/>
<path d="M389.3,468.6 C389.6,466.0 390.2,457.9 391.1,453.0 C392.0,448.1 392.9,442.8 394.5,439.2 C396.1,435.6 397.5,432.9 400.6,431.4 C403.7,429.9 409.2,429.9 413.0,430.0 C416.8,430.1 419.9,431.2 423.4,432.1 C426.8,433.0 430.9,434.4 433.7,435.2 C436.5,436.0 437.3,438.1 440.0,437.1 C442.7,436.1 446.5,433.1 449.7,429.1 C452.9,425.1 456.2,419.2 459.4,413.3 C462.6,407.4 465.9,399.5 469.1,393.9 C472.3,388.2 475.6,383.0 478.8,379.4 C482.0,375.8 485.9,373.5 488.5,372.1 C491.1,370.7 492.1,370.5 494.5,370.9 C496.9,371.3 500.0,372.3 503.0,374.5 C506.0,376.7 509.5,379.8 512.7,384.2 C515.9,388.6 519.2,395.9 522.4,401.2 C525.6,406.5 528.9,411.4 532.1,415.8 C535.3,420.2 538.6,424.3 541.8,427.9 C545.0,431.5 548.6,434.9 551.5,437.6 C554.4,440.3 555.5,441.5 559.0,444.3 C562.5,447.1 568.0,451.7 572.5,454.4 C577.0,457.1 580.4,458.9 586.0,460.5 C591.6,462.1 599.2,463.1 606.3,464.1 C613.4,465.2 617.9,465.8 628.8,466.8 C639.7,467.8 664.4,469.6 671.5,470.2" stroke="#0000ff" stroke-width="2.6" stroke-dasharray="3.2 6.1" stroke-linecap="round"/>
<path d="M389.3,389.9 C389.6,393.2 390.5,403.6 391.1,409.8 C391.7,416.0 392.1,421.6 392.8,427.1 C393.5,432.6 394.4,438.1 395.4,442.7 C396.4,447.3 397.2,450.9 398.8,454.8 C400.4,458.7 402.3,463.0 404.7,466.3 C407.1,469.6 409.9,472.9 413.0,474.6 C416.1,476.3 419.9,476.4 423.4,476.7 C426.8,477.0 430.9,477.2 433.7,476.7 C436.5,476.2 437.3,476.0 440.0,473.9 C442.7,471.8 446.5,469.2 449.7,464.2 C452.9,459.1 456.2,450.1 459.4,443.6 C462.6,437.2 465.9,431.4 469.1,425.5 C472.3,419.6 475.6,412.9 478.8,408.5 C482.0,404.1 485.9,401.1 488.5,399.3 C491.1,397.5 492.1,397.4 494.5,397.6 C496.9,397.8 500.0,398.5 503.0,400.7 C506.0,402.9 509.5,406.4 512.7,410.9 C515.9,415.4 519.2,422.2 522.4,427.9 C525.6,433.5 528.9,439.6 532.1,444.8 C535.3,450.1 538.8,455.7 541.8,459.4 C544.8,463.1 546.8,464.1 550.0,466.8 C553.2,469.5 557.5,473.0 561.3,475.8 C565.0,478.6 566.9,481.6 572.5,483.7 C578.1,485.8 587.5,486.9 595.0,488.2 C602.5,489.5 609.2,490.6 617.5,491.5 C625.8,492.4 635.5,493.2 644.5,493.8 C653.5,494.4 667.0,494.7 671.5,494.9" stroke="#ff0000" stroke-width="2.6" stroke-dasharray="3.2 6.1" stroke-linecap="round"/>
<path d="M389.3,429.7 C390.3,431.1 393.2,435.6 395.4,438.3 C397.6,441.0 399.7,443.7 402.3,446.1 C404.9,448.6 408.2,451.2 411.0,453.0 C413.8,454.8 416.1,455.5 419.2,457.0 C422.3,458.5 426.5,461.0 429.6,462.2 C432.7,463.4 435.2,464.3 437.9,464.3 C440.6,464.3 443.2,462.9 446.0,462.2 C448.8,461.5 449.9,460.8 454.5,459.9 C459.1,458.9 468.2,456.9 473.9,456.5 C479.6,456.1 483.6,456.7 488.5,457.5 C493.4,458.3 498.1,459.8 503.0,461.3 C507.9,462.8 511.9,464.8 517.6,466.7 C523.3,468.6 531.6,471.2 537.0,472.7 C542.4,474.2 544.1,474.5 550.0,475.8 C555.9,477.1 565.0,478.9 572.5,480.3 C580.0,481.7 587.5,483.2 595.0,484.3 C602.5,485.4 609.2,486.2 617.5,487.0 C625.8,487.8 635.5,488.7 644.5,489.3 C653.5,489.9 667.0,490.2 671.5,490.4" stroke="#ff0000" stroke-width="2.6" stroke-linecap="round"/>
</g>
</svg>
</body></html>
